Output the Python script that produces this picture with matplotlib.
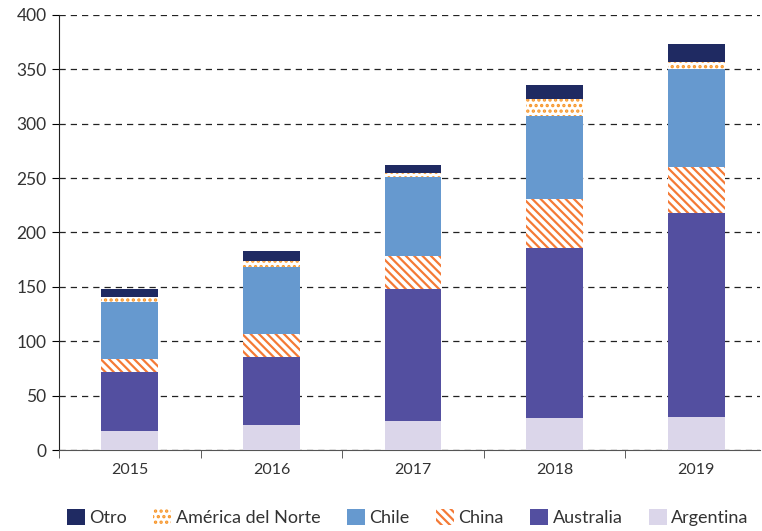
import matplotlib.pyplot as plt
import numpy as np

years = ['2015', '2016', '2017', '2018', '2019']
argentina = [17.7, 22.7, 26.4, 29.0, 30.0]
australia = [53.7, 62.8, 121.9, 156.5, 187.6]
china = [12.0, 21.2, 30.4, 45.3, 42.9]
chile = [52.4, 61.8, 72.1, 76.6, 89.5]
norte = [4.9, 5.5, 3.6, 15.4, 6.5]
otro = [7.3, 8.7, 7.6, 12.8, 17.1]

plt.rcParams['font.family'] = ['Lato', 'DejaVu Sans']
plt.rcParams['hatch.linewidth'] = 1.6

fig = plt.figure(figsize=(7.62, 5.31), dpi=100)
ax = fig.add_axes([0.0774, 0.1525, 0.92, 0.8193])

x = np.arange(len(years))
w = 0.4
bottom = np.zeros(len(years))

series = [
    ('Argentina', argentina, dict(color='#dbd6ea')),
    ('Australia', australia, dict(color='#534fa0')),
    ('China', china, dict(facecolor='white', edgecolor='#f47a36', hatch='\\\\\\\\', linewidth=0)),
    ('Chile', chile, dict(color='#6699cf')),
    ('América del Norte', norte, dict(facecolor='white', edgecolor='#f7962a', hatch='...', linewidth=0)),
    ('Otro', otro, dict(color='#1f2a62')),
]
handles = {}
for name, vals, style in series:
    b = ax.bar(x, vals, w, bottom=bottom, zorder=3, **style)
    handles[name] = b
    bottom += np.array(vals)

ax.set_ylim(0, 400)
ax.set_xlim(-0.5, 4.45)
ax.set_yticks(np.arange(0, 401, 50))
ax.set_xticks(x)
ax.set_xticklabels(years)
ax.set_xticks(np.arange(-0.5, 4.0, 1.0), minor=True)
ax.tick_params(axis='x', which='major', length=0, pad=9, labelsize=11.5, labelcolor='#333333')
ax.tick_params(axis='x', which='minor', length=6, direction='out', color='#444444')
ax.tick_params(axis='y', length=5, direction='out', labelsize=12.5, labelcolor='#333333', pad=4)

ax.yaxis.grid(True, linestyle=(0, (5, 4)), color='#222222', linewidth=0.9, zorder=0)
ax.set_axisbelow(True)
for s in ['top', 'right']:
    ax.spines[s].set_visible(False)
ax.spines['left'].set_color('#222222')
ax.spines['bottom'].set_color('#555555')

order = ['Otro', 'América del Norte', 'Chile', 'China', 'Australia', 'Argentina']
fig.legend([handles[n] for n in order], order, loc='center', bbox_to_anchor=(0.535, 0.025),
           ncol=6, frameon=False, handlelength=1.0, handleheight=1.0, handletextpad=0.25,
           columnspacing=1.45, fontsize=13, labelcolor='#333333')

fig.savefig('out.png', dpi=100)
